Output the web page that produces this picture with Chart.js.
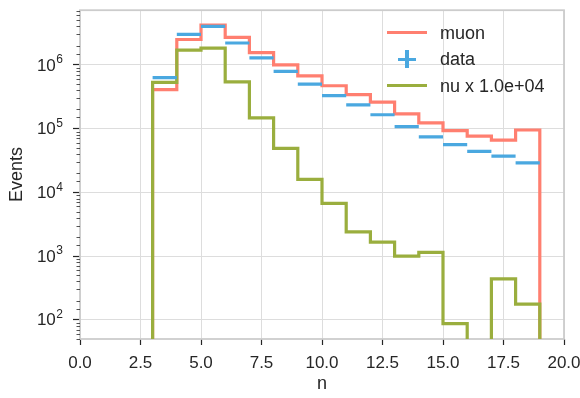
<!DOCTYPE html>
<html>
<head>
<meta charset="utf-8">
<script src="https://cdn.jsdelivr.net/npm/chart.js@4/dist/chart.umd.min.js"></script>
<style>
  html, body { margin: 0; padding: 0; background: #fff; }
  #wrap { position: relative; width: 580px; height: 398px; }
  .lg { position: absolute; }
  .txt { font: 18px/18px "Liberation Sans", Arial, sans-serif; color: #262626; left: 440px; white-space: nowrap; }
</style>
</head>
<body>
<div id="wrap">
  <canvas id="myChart" width="580" height="398"></canvas>
  <div class="lg" style="left:387px; top:31.2px; width:40px; height:3.2px; background:#ff7f70"></div>
  <div class="lg txt" style="top:24px">muon</div>
  <div class="lg" style="left:398px; top:57.5px; width:18px; height:3.2px; background:#4aa8e0"></div>
  <div class="lg" style="left:405.4px; top:50px; width:3.2px; height:18px; background:#4aa8e0"></div>
  <div class="lg txt" style="top:49.8px">data</div>
  <div class="lg" style="left:387px; top:83.8px; width:40px; height:3.2px; background:#9aae3e"></div>
  <div class="lg txt" style="top:76.5px">nu x 1.0e+04</div>
</div>
<script>
(() => {
    'use strict';

    // bin edges and counts per bin
    const binEdges = [3, 4, 5, 6, 7, 8, 9, 10, 11, 12, 13, 14, 15, 16, 17, 18, 19];
    const muon = [4.1e5, 2.5e6, 4.2e6, 2.7e6, 1.56e6, 1.0e6, 6.7e5, 4.7e5, 3.4e5, 2.6e5, 1.7e5, 1.23e5, 9.3e4, 7.6e4, 6.6e4, 9.5e4];
    const data = [6.3e5, 3.0e6, 4.0e6, 2.2e6, 1.29e6, 7.9e5, 5.0e5, 3.3e5, 2.35e5, 1.65e5, 1.07e5, 7.4e4, 5.6e4, 4.4e4, 3.7e4, 2.9e4];
    const nu = [5.3e5, 1.7e6, 1.83e6, 5.4e5, 1.47e5, 4.9e4, 1.6e4, 6.7e3, 2.4e3, 1.65e3, 1.0e3, 1.14e3, 87, 0, 440, 176];

    const xTicks = [0, 2.5, 5, 7.5, 10, 12.5, 15, 17.5, 20];
    const yMajor = [1e2, 1e3, 1e4, 1e5, 1e6];
    const yExp = ['2', '3', '4', '5', '6'];

    const FLOOR = 1; // empty bins go below the axis and get clipped

    // step outline, starting and ending at the floor
    function stepPoints(vals) {
        const pts = [{x: binEdges[0], y: FLOOR}];
        vals.forEach((v, i) => {
            const y = v > 0 ? v : FLOOR;
            pts.push({x: binEdges[i], y: y});
            pts.push({x: binEdges[i + 1], y: y});
        });
        pts.push({x: binEdges[binEdges.length - 1], y: FLOOR});
        return pts;
    }

    // separate horizontal segments, one per bin
    function segPoints(vals) {
        const pts = [];
        vals.forEach((v, i) => {
            pts.push({x: binEdges[i], y: v});
            pts.push({x: binEdges[i + 1], y: v});
            pts.push({x: binEdges[i + 1], y: null});
        });
        return pts;
    }

    const isMajor = v => yMajor.some(m => Math.abs(m - v) / m < 1e-6);
    const family = '"Liberation Sans", Arial, sans-serif';
    const textColor = '#262626';

    const frame = {
        id: 'frame',
        beforeDatasetsDraw(chart) {
            const a = chart.chartArea;
            const c = chart.ctx;
            c.save();
            c.strokeStyle = '#cccccc';
            c.lineWidth = 1.8;
            c.strokeRect(a.left, a.top, a.right - a.left, a.bottom - a.top);
            c.restore();
        }
    };

    // minor ticks and 10^n labels on the log axis
    const logAxis = {
        id: 'logAxis',
        afterDraw(chart) {
            const s = chart.scales.y;
            const c = chart.ctx;
            c.save();
            c.strokeStyle = textColor;
            c.lineWidth = 0.8;
            s.ticks.forEach(t => {
                if (isMajor(t.value) || t.value >= s.max) return;
                const y = Math.round(s.getPixelForValue(t.value)) + 0.5;
                c.beginPath();
                c.moveTo(s.right - 3.5, y);
                c.lineTo(s.right, y);
                c.stroke();
            });
            c.fillStyle = textColor;
            c.textBaseline = 'middle';
            c.textAlign = 'right';
            yMajor.forEach((m, i) => {
                const y = s.getPixelForValue(m);
                const xr = s.right - 17;
                c.font = '12px ' + family;
                const ew = c.measureText(yExp[i]).width;
                c.fillText(yExp[i], xr, y - 5);
                c.font = '17px ' + family;
                c.fillText('10', xr - ew - 0.5, y + 1);
            });
            c.restore();
        }
    };

    const ctx = document.getElementById('myChart').getContext('2d');
    // eslint-disable-next-line no-unused-vars
    const myChart = new Chart(ctx, {
        type: 'line',
        data: {
            datasets: [{
                label: 'data',
                data: segPoints(data),
                borderColor: '#4aa8e0',
                borderWidth: 3.2,
                pointRadius: 0,
                spanGaps: false,
                order: 0
            }, {
                label: 'nu x 1.0e+04',
                data: stepPoints(nu),
                borderColor: '#9aae3e',
                borderWidth: 3.2,
                pointRadius: 0,
                order: 1
            }, {
                label: 'muon',
                data: stepPoints(muon),
                borderColor: '#ff7f70',
                borderWidth: 3.2,
                pointRadius: 0,
                order: 2
            }]
        },
        options: {
            responsive: false,
            animation: false,
            layout: {padding: {top: 9, right: 16, left: 2, bottom: 1}},
            scales: {
                x: {
                    type: 'linear',
                    min: 0,
                    max: 20,
                    afterBuildTicks: s => { s.ticks = xTicks.map(v => ({value: v})); },
                    afterFit: s => {
                        s.height = 58;
                        s.paddingLeft = 0;
                        s.paddingRight = 0;
                    },
                    ticks: {
                        color: textColor,
                        font: {family: family, size: 17},
                        padding: 8,
                        maxRotation: 0,
                        callback: v => v.toFixed(1)
                    },
                    grid: {color: '#dddddd', lineWidth: 1, tickColor: textColor, tickLength: 6, tickWidth: 1.2},
                    border: {display: false},
                    title: {display: true, text: 'n', color: textColor, font: {family: family, size: 18}, padding: {top: 0, bottom: 2}}
                },
                y: {
                    type: 'logarithmic',
                    min: 50,
                    max: 7.2e6,
                    afterFit: s => { s.width = 78; },
                    ticks: {
                        autoSkip: false,
                        callback: () => ''
                    },
                    grid: {
                        color: c => isMajor(c.tick.value) ? '#dddddd' : 'rgba(0,0,0,0)',
                        lineWidth: 1,
                        tickColor: c => isMajor(c.tick.value) ? textColor : 'rgba(0,0,0,0)',
                        tickWidth: 1.2,
                        tickLength: 7
                    },
                    border: {display: false},
                    title: {display: true, text: 'Events', color: textColor, font: {family: family, size: 18}, padding: {top: 4, bottom: 2}}
                }
            },
            plugins: {
                legend: {display: false},
                tooltip: {enabled: false}
            }
        },
        plugins: [frame, logAxis]
    });
})();
</script>
</body>
</html>
